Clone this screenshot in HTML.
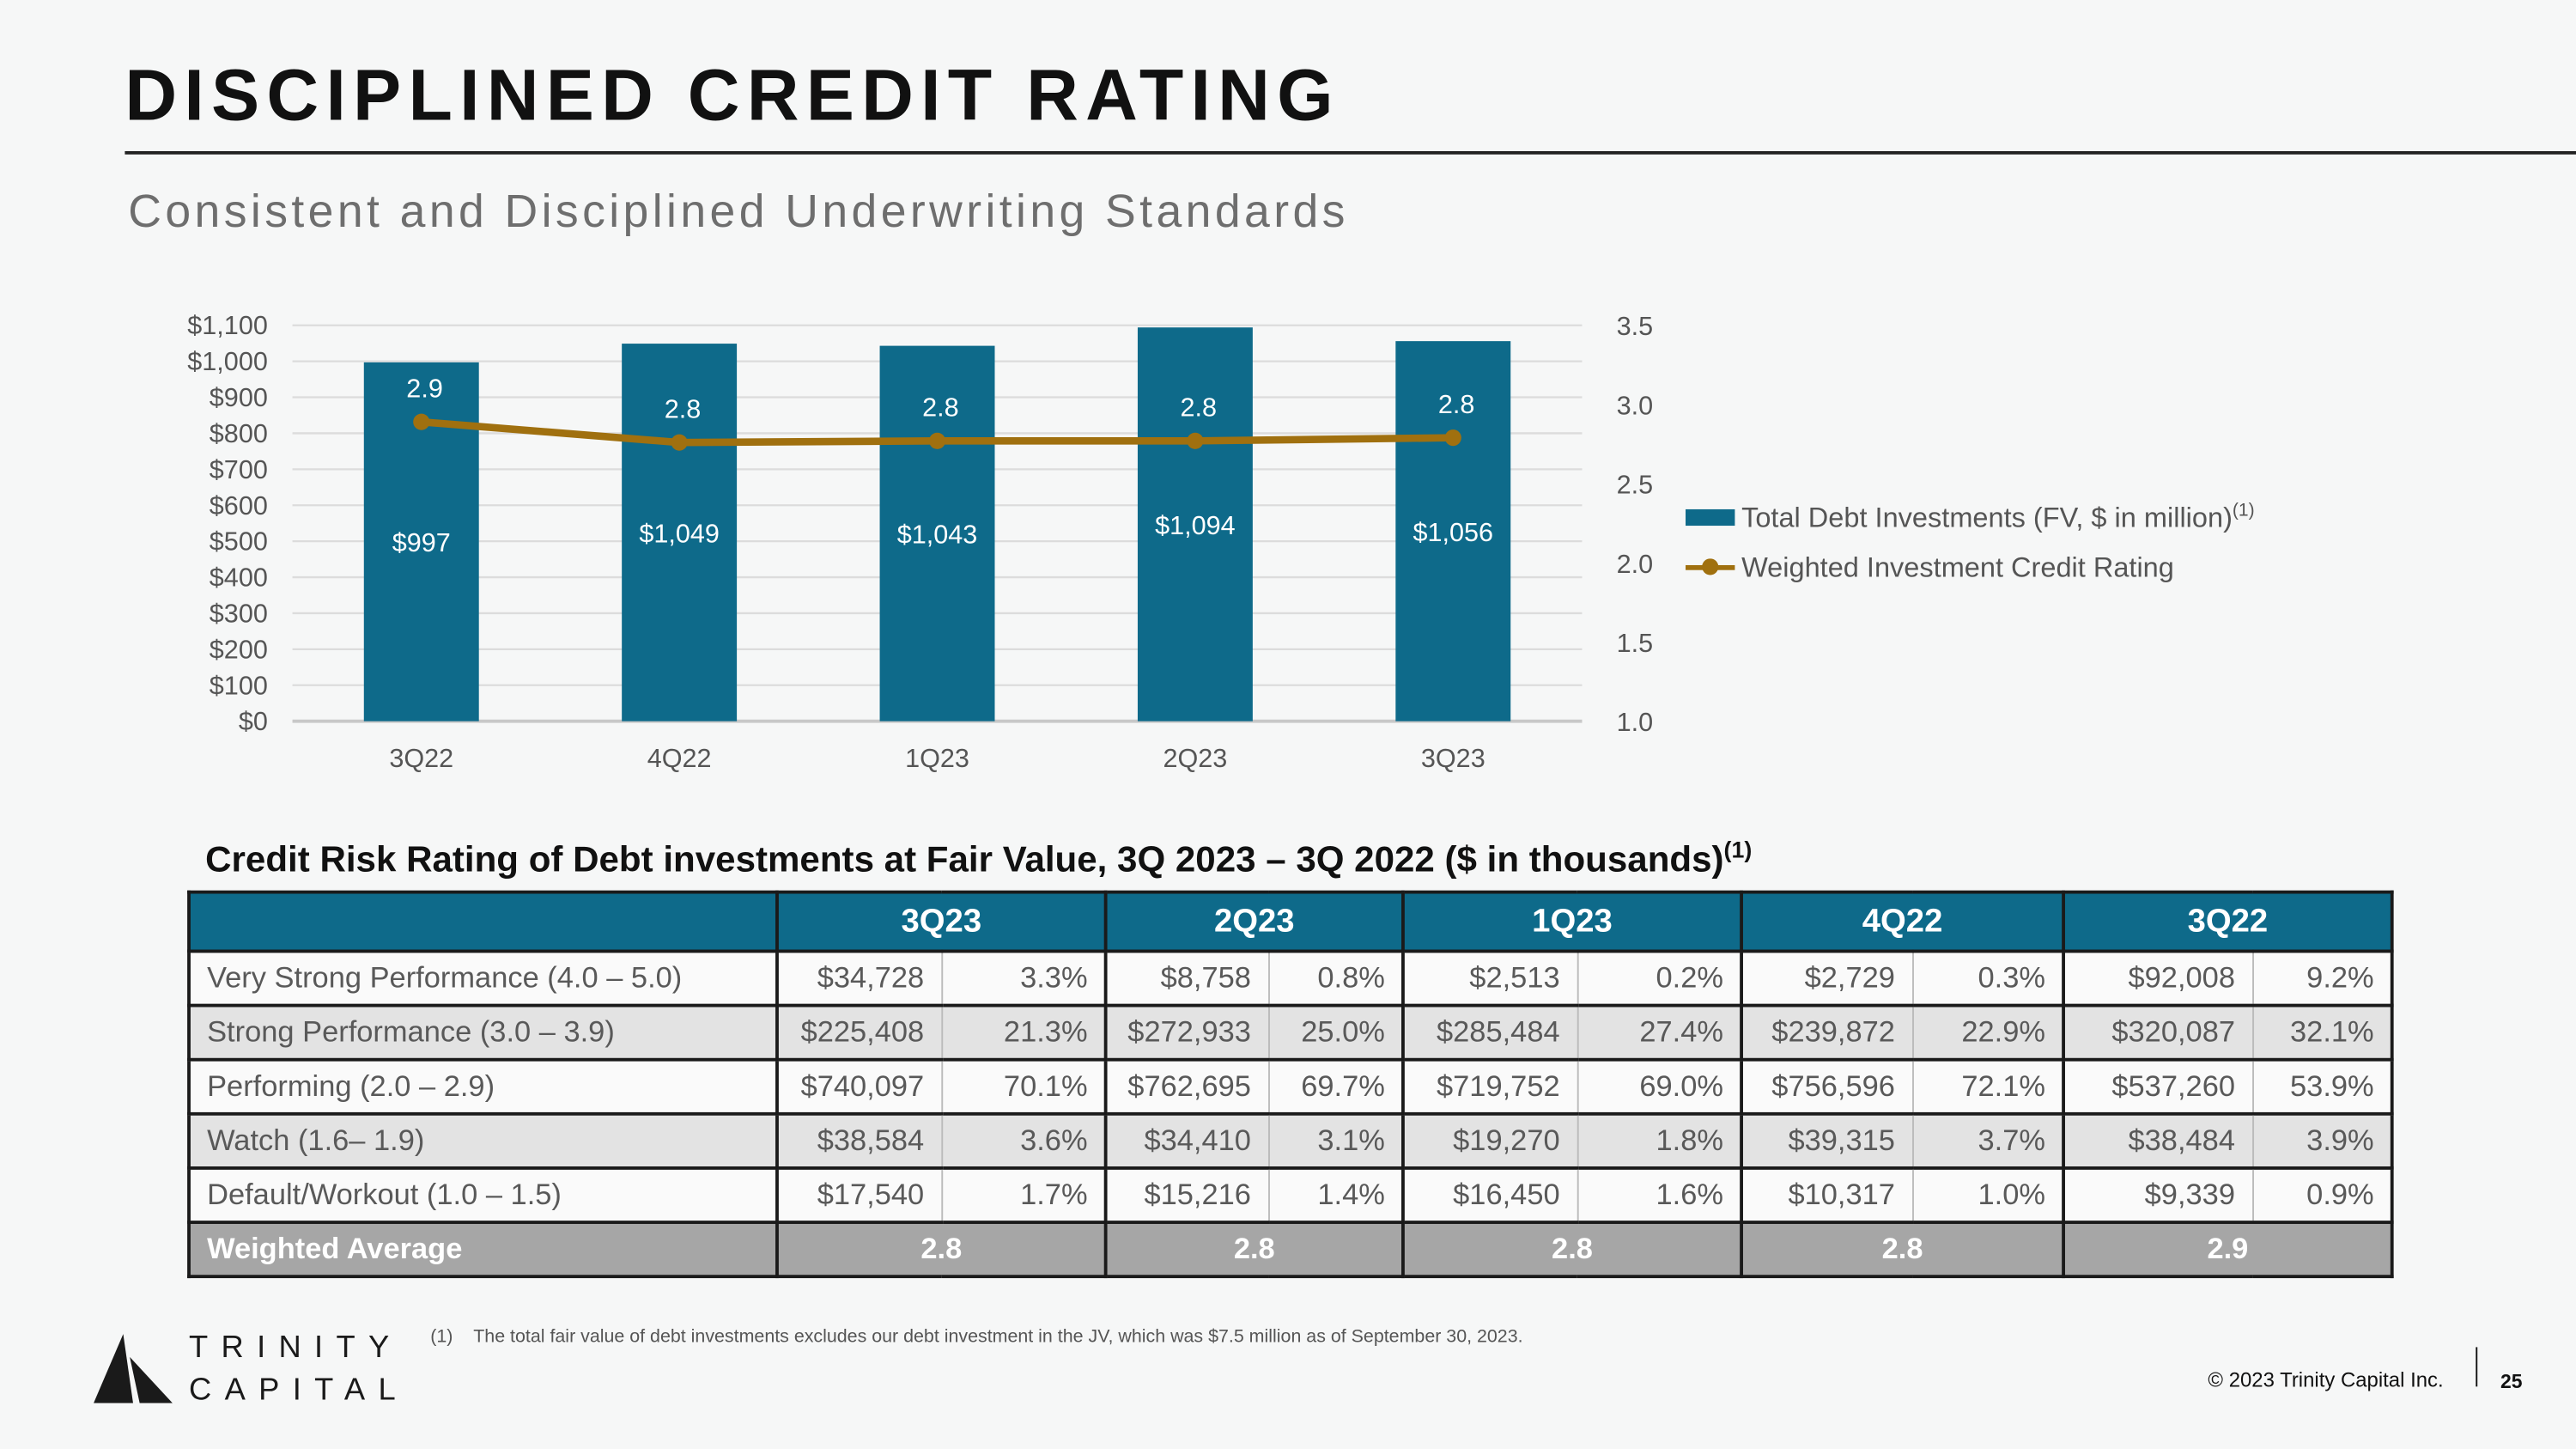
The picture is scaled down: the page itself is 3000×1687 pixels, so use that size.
<!DOCTYPE html>
<html><head><meta charset="utf-8"><style>
html,body{margin:0;padding:0;}
body{width:3000px;height:1687px;overflow:hidden;background:#f6f7f7;font-family:"Liberation Sans",sans-serif;}
#s{position:absolute;left:0;top:0;width:1568px;height:882px;transform:scale(1.91327,1.91270);transform-origin:0 0;background:#f6f7f7;}
.a{position:absolute;}
table{border-collapse:collapse;position:absolute;left:114px;top:542px;width:1341px;table-layout:fixed;font-size:18px;color:#595959;}
td{border:2px solid #1a1a1a;height:31px;padding:0 10px;white-space:nowrap;}
td.n{text-align:right;}
td.l{border-right:1px solid #bbb;}
td.r{border-left:1px solid #bbb;}
tr.h td{background:#0e6a8a;color:#fff;font-weight:bold;text-align:center;font-size:20px;height:34px;}
tr.w td{background:#fafafa;}
tr.g td{background:#e3e3e3;}
tr.avg td{background:#a6a6a6;color:#fff;font-weight:bold;text-align:center;}
</style></head><body>
<div id="s">
<div class="a" style="left:76px;top:34px;font-size:44px;font-weight:bold;letter-spacing:4.3px;color:#111;">DISCIPLINED CREDIT RATING</div>
<div class="a" style="left:76px;top:92px;width:1492px;height:2px;background:#222;"></div>
<div class="a" style="left:78px;top:113px;font-size:28px;color:#6e6e6e;letter-spacing:2.3px;">Consistent and Disciplined Underwriting Standards</div>

<svg class="a" style="left:0;top:0" width="1568" height="490" id="chart"></svg>

<div class="a" style="left:1026px;top:310px;width:30px;height:10px;background:#0e6a8a;"></div>
<div class="a" style="left:1060px;top:305px;font-size:17px;color:#555;">Total Debt Investments (FV, $ in million)<sup style="font-size:11px">(1)</sup></div>
<div class="a" style="left:1026px;top:344px;width:30px;height:3px;background:#a0700f;"></div>
<div class="a" style="left:1036px;top:340px;width:10px;height:10px;border-radius:50%;background:#a0700f;"></div>
<div class="a" style="left:1060px;top:336px;font-size:17px;color:#555;">Weighted Investment Credit Rating</div>

<div class="a" style="left:125px;top:509px;font-size:22px;font-weight:bold;color:#111;">Credit Risk Rating of Debt investments at Fair Value, 3Q 2023 – 3Q 2022 ($ in thousands)<sup style="font-size:14px">(1)</sup></div>
<table>
<colgroup><col style="width:358px"><col style="width:100px"><col style="width:100px"><col style="width:99px"><col style="width:82px"><col style="width:106px"><col style="width:100px"><col style="width:104px"><col style="width:92px"><col style="width:115px"><col style="width:85px"></colgroup>
<tr class="h"><td></td><td colspan="2">3Q23</td><td colspan="2">2Q23</td><td colspan="2">1Q23</td><td colspan="2">4Q22</td><td colspan="2">3Q22</td></tr>
<tr class="w"><td>Very Strong Performance (4.0 – 5.0)</td><td class="n l">$34,728</td><td class="n r">3.3%</td><td class="n l">$8,758</td><td class="n r">0.8%</td><td class="n l">$2,513</td><td class="n r">0.2%</td><td class="n l">$2,729</td><td class="n r">0.3%</td><td class="n l">$92,008</td><td class="n r">9.2%</td></tr>
<tr class="g"><td>Strong Performance (3.0 – 3.9)</td><td class="n l">$225,408</td><td class="n r">21.3%</td><td class="n l">$272,933</td><td class="n r">25.0%</td><td class="n l">$285,484</td><td class="n r">27.4%</td><td class="n l">$239,872</td><td class="n r">22.9%</td><td class="n l">$320,087</td><td class="n r">32.1%</td></tr>
<tr class="w"><td>Performing (2.0 – 2.9)</td><td class="n l">$740,097</td><td class="n r">70.1%</td><td class="n l">$762,695</td><td class="n r">69.7%</td><td class="n l">$719,752</td><td class="n r">69.0%</td><td class="n l">$756,596</td><td class="n r">72.1%</td><td class="n l">$537,260</td><td class="n r">53.9%</td></tr>
<tr class="g"><td>Watch (1.6– 1.9)</td><td class="n l">$38,584</td><td class="n r">3.6%</td><td class="n l">$34,410</td><td class="n r">3.1%</td><td class="n l">$19,270</td><td class="n r">1.8%</td><td class="n l">$39,315</td><td class="n r">3.7%</td><td class="n l">$38,484</td><td class="n r">3.9%</td></tr>
<tr class="w"><td>Default/Workout (1.0 – 1.5)</td><td class="n l">$17,540</td><td class="n r">1.7%</td><td class="n l">$15,216</td><td class="n r">1.4%</td><td class="n l">$16,450</td><td class="n r">1.6%</td><td class="n l">$10,317</td><td class="n r">1.0%</td><td class="n l">$9,339</td><td class="n r">0.9%</td></tr>
<tr class="avg"><td style="text-align:left">Weighted Average</td><td colspan="2">2.8</td><td colspan="2">2.8</td><td colspan="2">2.8</td><td colspan="2">2.8</td><td colspan="2">2.9</td></tr>
</table>

<svg class="a" style="left:57px;top:812px" width="50" height="44"><polygon points="18,0 0,42 24,42" fill="#1a1a1a"/><polygon points="22,14 48,42 28,42" fill="#1a1a1a"/></svg>
<div class="a" style="left:115px;top:810px;font-size:19px;letter-spacing:8px;color:#1a1a1a;">TRINITY</div>
<div class="a" style="left:115px;top:836px;font-size:19px;letter-spacing:8px;color:#1a1a1a;">CAPITAL</div>
<div class="a" style="left:262px;top:808px;font-size:11.2px;color:#555;">(1)&nbsp;&nbsp;&nbsp;&nbsp;The total fair value of debt investments excludes our debt investment in the JV, which was $7.5 million as of September 30, 2023.</div>
<div class="a" style="left:1344px;top:833px;font-size:12.5px;color:#111;">© 2023 Trinity Capital Inc.</div>
<div class="a" style="left:1507px;top:820px;width:1px;height:24px;background:#111;"></div>
<div class="a" style="left:1522px;top:834px;font-size:12px;font-weight:bold;color:#111;">25</div>
</div>
<script>
const categories=["3Q22","4Q22","1Q23","2Q23","3Q23"];
const debtValues=[997,1049,1043,1094,1056];
const debtLabels=["$997","$1,049","$1,043","$1,094","$1,056"];
const ratingValues=[2.89,2.76,2.77,2.77,2.79];
const ratingLabels=["2.9","2.8","2.8","2.8","2.8"];
const leftTicks=[0,100,200,300,400,500,600,700,800,900,1000,1100];
const rightTicks=[1.0,1.5,2.0,2.5,3.0,3.5];
const NS="http://www.w3.org/2000/svg";
const svg=document.getElementById('chart');
const X0=178,X1=963,Y0=439,Y1=198;
const yL=v=>Y0-(v/1100)*(Y0-Y1);
const yR=v=>Y0-((v-1)/2.5)*(Y0-Y1);
const step=(X1-X0)/categories.length;
const xC=i=>X0+step*(i+0.5);
function mk(t,a){const e=document.createElementNS(NS,t);for(const k in a)e.setAttribute(k,a[k]);svg.appendChild(e);return e;}
leftTicks.forEach(v=>{
 const g=mk('line',{x1:X0,x2:X1,y1:yL(v),y2:yL(v),stroke:v===0?'#c8c8c8':'#dcdcdc','stroke-width':v===0?2:1.2});
 
 
 const t=mk('text',{x:163,y:yL(v)+5.5,'text-anchor':'end','font-size':16,fill:'#555','font-family':'Liberation Sans'});
 t.textContent='$'+v.toLocaleString('en-US');
 
 
});
rightTicks.forEach(v=>{
 const t=mk('text',{x:984,y:yR(v)+6,'font-size':16,fill:'#555','font-family':'Liberation Sans'});
 t.textContent=v.toFixed(1);
 
 
});
categories.forEach((c,i)=>{
 const r=mk('rect',{x:xC(i)-35,y:yL(debtValues[i]),width:70,height:Y0-yL(debtValues[i]),fill:'#0e6a8a'});
 
 
 const t=mk('text',{x:xC(i),y:Y0+28,'text-anchor':'middle','font-size':16,fill:'#555','font-family':'Liberation Sans'});
 t.textContent=c;
 
 
 const bl=mk('text',{x:xC(i),y:yL(debtValues[i]/2)+6,'text-anchor':'middle','font-size':16,fill:'#fff','font-family':'Liberation Sans'});
 bl.textContent=debtLabels[i];
 
 
});
const pts=ratingValues.map((v,i)=>xC(i)+','+yR(v)).join(' ');
const pl=mk('polyline',{points:pts,fill:'none',stroke:'#a0700f','stroke-width':4.5});


ratingValues.forEach((v,i)=>{
 const c=mk('circle',{cx:xC(i),cy:yR(v),r:5,fill:'#a0700f'});
 
 
 const t=mk('text',{x:xC(i)+2,y:yR(v)-15,'text-anchor':'middle','font-size':16,fill:'#fff','font-family':'Liberation Sans'});
 t.textContent=ratingLabels[i];
 
 
});
</script>
</body></html>
